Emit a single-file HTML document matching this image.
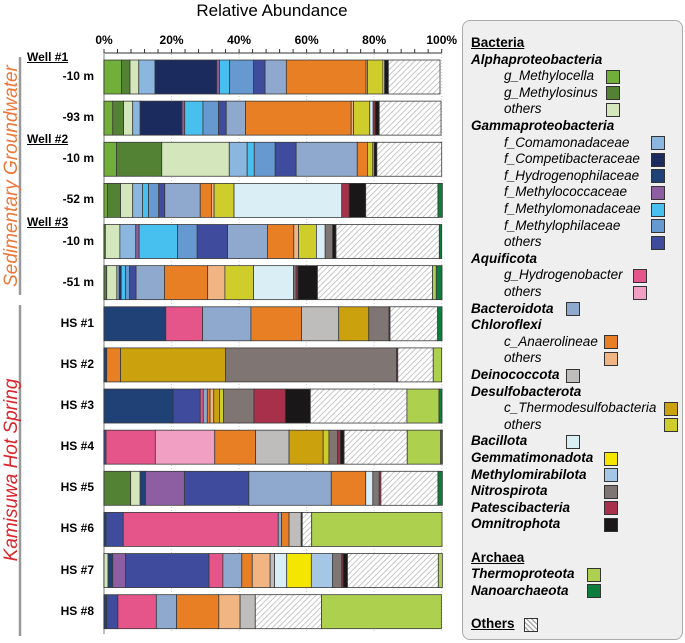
<!DOCTYPE html>
<html><head><meta charset="utf-8">
<style>
body{margin:0;background:#fff;font-family:"Liberation Sans",Arial,sans-serif;}
#wrap{position:relative;width:685px;height:643px;overflow:hidden;}
.lg{position:absolute;font-size:13.5px;white-space:nowrap;line-height:16px;}
.b{font-weight:bold;font-style:italic;}
.i{font-style:italic;}
.u{font-weight:bold;text-decoration:underline;}
.sw{position:absolute;width:12px;height:12px;border:1.5px solid #333;}
.lab{position:absolute;font-size:12px;font-weight:bold;white-space:nowrap;}
</style></head><body>
<div id="wrap">
<svg id="chart" width="685" height="643" style="position:absolute;left:0;top:0">
<defs>
<pattern id="hatch" patternUnits="userSpaceOnUse" width="4" height="4" patternTransform="rotate(45)">
<rect width="4" height="4" fill="#fff"/><line x1="0" y1="0" x2="0" y2="4" stroke="#b8b8b8" stroke-width="1.6"/>
</pattern>
</defs>
<text x="272" y="16" font-size="17" text-anchor="middle" font-family="Liberation Sans">Relative Abundance</text>
<g id="axis"></g>
<g id="bars"></g>
<line x1="20" y1="57" x2="20" y2="295" stroke="#999" stroke-width="2.5"/>
<line x1="20" y1="305" x2="20" y2="636" stroke="#999" stroke-width="2.5"/>
<text transform="translate(17,176) rotate(-90)" font-size="19" font-style="italic" fill="#e9783a" text-anchor="middle" font-family="Liberation Sans">Sedimentary Groundwater</text>
<text transform="translate(17,470) rotate(-90)" font-size="19" font-style="italic" fill="#d8262c" text-anchor="middle" font-family="Liberation Sans">Kamisuwa Hot Spring</text>
</svg>
<div id="labels"></div>
<div style="position:absolute;left:462px;top:20px;width:219px;height:618px;border:1.5px solid #aaa;border-radius:8px;background:#efefef;"></div>
<div id="legend"></div>
</div>
<script>
const sampleNames=["-10 m","-93 m","-10 m","-52 m","-10 m","-51 m","HS #1","HS #2","HS #3","HS #4","HS #5","HS #6","HS #7","HS #8"];
const wellLabels=[["Well #1",0],["Well #2",2],["Well #3",4]];
const tickLabels=["0%","20%","40%","60%","80%","100%"];
// series values per sample (percent)
const methylocella=[5.2,2.6,3.7,1.0,0,0,0,0,0,0,0,0,0,0];
const methylosinus=[2.5,3.2,13.4,3.9,0.4,0.8,0,0,0,0,7.9,0,0,0];
const alphaOthers=[2.6,2.7,20.0,3.6,4.3,3.0,0,0,0,0,2.8,0,1.2,0];
const comamonadaceae=[4.8,2.2,5.3,2.9,4.7,0.7,0,0,0,0,0,0,0,0];
const competibacteraceae=[18.3,12.4,0,0,0,0.6,0,0,0,0,0,0,0,0];
const hydrogenophilaceae=[0,0,0,0,0,0,18.3,0.8,20.5,0,1.6,0.6,1.4,0.8];
const methylococcaceae=[0.8,0.8,0,0,1.0,0,0,0,0,0,11.5,0,3.8,0];
const methylomonadaceae=[3.0,5.4,2.1,1.8,11.4,1.3,0,0,0,0,0,0,0,0];
const methylophilaceae=[7.1,4.6,6.2,3.0,5.8,1.2,0,0,0,0,0,0,0,0];
const gammaOthers=[3.4,2.3,6.2,1.8,9.0,1.9,0,0,8.0,0.6,19.1,5.1,24.7,3.3];
const hydrogenobacter=[0,0,0,0,0,0,10.9,0,0.9,14.6,0,45.9,4.1,11.4];
const aquificotaOthers=[0,0,0,0,0,0,0,0,0,17.6,0,0,0,0];
const bacteroidota=[6.3,5.7,18.1,10.5,11.8,8.4,14.3,0,1.2,0,24.4,1.0,5.6,6.0];
const anaerolineae=[23.6,31.3,3.0,3.3,7.8,12.8,15.0,4.1,0.8,12.1,10.2,2.2,3.1,12.5];
const chloroflexiOthers=[0.4,0.7,0,0.8,1.4,5.1,0,0,1.1,0,0,0,5.3,6.3];
const deinococcota=[0,0,0,0,0,0,11.0,0,0,9.9,0,3.6,1.3,4.5];
const thermodesulfobacteria=[0,0,0,0,0,0,8.9,31.1,1.7,10.1,0,0,0,0];
const desulfoOthers=[4.6,4.8,1.6,5.9,5.3,8.5,0,0,1.2,1.7,0,0,0,0];
const bacillota=[0.5,1.0,0.4,31.9,2.6,11.8,0,0,0,0,2.1,0,3.6,0];
const gemmatimonadota=[0,0,0,0,0,0,0,0,0,0,0,0,7.3,0];
const methylomirabilota=[0,0,0,0,0,0,0,0,0,0,0,0,6.3,0];
const nitrospirota=[0,0,0,0,2.2,0.8,6.0,50.6,9.0,2.6,1.9,0,2.7,0];
const patescibacteria=[0,0.6,0,2.2,0,0.5,0,0.4,9.3,0.8,0.5,0,0.4,0];
const omnitrophota=[1.1,1.2,0.8,4.9,1.0,5.8,0.3,0,7.4,1.1,0,0.3,1.3,0];
const othersHatch=[15.3,18.3,19.2,21.4,30.6,34.1,14.1,10.5,28.6,18.7,16.9,2.8,26.9,19.6];
const thermoproteota=[0,0,0,0,0,1.1,0,2.5,9.5,9.9,0,38.6,1.2,35.5];
const nanoarchaeota=[0,0,0,1.3,0.7,1.7,1.3,0,0.9,0.5,1.3,0,0,0];

const series=[
["methylocella",methylocella,"#72ae3a"],["methylosinus",methylosinus,"#548235"],["alpha-others",alphaOthers,"#d4e6bb"],
["comamonadaceae",comamonadaceae,"#8ab6e0"],["competibacteraceae",competibacteraceae,"#1c2b5e"],["hydrogenophilaceae",hydrogenophilaceae,"#1f4176"],
["methylococcaceae",methylococcaceae,"#8e5ea2"],["methylomonadaceae",methylomonadaceae,"#48c0ef"],["methylophilaceae",methylophilaceae,"#6699cf"],
["gamma-others",gammaOthers,"#3f4b9c"],["hydrogenobacter",hydrogenobacter,"#e6558a"],["aquificota-others",aquificotaOthers,"#f19fc2"],
["bacteroidota",bacteroidota,"#8fa9ce"],["anaerolineae",anaerolineae,"#e87f25"],["chloroflexi-others",chloroflexiOthers,"#f1b583"],
["deinococcota",deinococcota,"#bfbdbc"],["thermodesulfobacteria",thermodesulfobacteria,"#cca10e"],["desulfo-others",desulfoOthers,"#cfcd2c"],
["bacillota",bacillota,"#daeef5"],["gemmatimonadota",gemmatimonadota,"#f5e600"],["methylomirabilota",methylomirabilota,"#a6c6e6"],
["nitrospirota",nitrospirota,"#7f7573"],["patescibacteria",patescibacteria,"#a8304a"],["omnitrophota",omnitrophota,"#1a1718"],
["others",othersHatch,"url(#hatch)"],["thermoproteota",thermoproteota,"#add04f"],["nanoarchaeota",nanoarchaeota,"#0d7d3d"]];

const NS="http://www.w3.org/2000/svg";
const X0=104,X1=441.7,Y0=60,PITCH=41.13,BH=34;
function xs(v){return X0+(X1-X0)*v/100;}
function yb(i){return Y0+i*PITCH;}
const axis=document.getElementById('axis');
function mk(tag,attrs,parent){const e=document.createElementNS(NS,tag);for(const k in attrs)e.setAttribute(k,attrs[k]);parent.appendChild(e);return e;}
for(let p=20;p<=100;p+=20){const g=mk('line',{x1:xs(p),x2:xs(p),y1:54,y2:632,stroke:'#ccc','stroke-width':1,'stroke-dasharray':'1,2'},axis);

}
const al=mk('line',{x1:X0,x2:X1,y1:53,y2:53,stroke:'#333','stroke-width':1},axis);


const ll=mk('line',{x1:X0,x2:X0,y1:53,y2:634,stroke:'#aaa','stroke-width':1.5},axis);


for(let p=0;p<=100;p+=4){const t=mk('line',{x1:xs(p),x2:xs(p),y1:49,y2:53,stroke:'#333','stroke-width':1},axis);

}
tickLabels.forEach((s,i)=>{const t=mk('text',{x:xs(i*20),y:44,'font-size':12,'font-weight':'bold','text-anchor':'middle','font-family':'Liberation Sans'},axis);t.textContent=s;

});
const bars=document.getElementById('bars');
sampleNames.forEach((n,i)=>{let acc=0;const g=mk('g',{},bars);


series.forEach(s=>{const v=s[1][i];if(v>0){const r=mk('rect',{x:xs(acc),y:yb(i),width:xs(acc+v)-xs(acc),height:BH,fill:s[2],stroke:'#3a3a3a','stroke-width':0.8},g);

}acc+=v;});});
const labels=document.getElementById('labels');
sampleNames.forEach((n,i)=>{const d=document.createElement('div');d.className='lab';d.textContent=n;
d.style.right=(685-94)+'px';d.style.top=(yb(i)+BH/2-8)+'px';


labels.appendChild(d);});
wellLabels.forEach(w=>{const d=document.createElement('div');d.className='lab';d.style.textDecoration='underline';d.textContent=w[0];
d.style.left='27px';d.style.top=(yb(w[1])-10)+'px';


labels.appendChild(d);});
const legendRows=[
["Bacteria","u",null,null],["Alphaproteobacteria","b",null,null],
["g_Methylocella","i","#72ae3a",606],["g_Methylosinus","i","#548235",606],["others","i","#d4e6bb",606],
["Gammaproteobacteria","b",null,null],
["f_Comamonadaceae","i","#8ab6e0",651],["f_Competibacteraceae","i","#1c2b5e",651],["f_Hydrogenophilaceae","i","#1f4176",651],
["f_Methylococcaceae","i","#8e5ea2",651],["f_Methylomonadaceae","i","#48c0ef",651],["f_Methylophilaceae","i","#6699cf",651],["others","i","#3f4b9c",651],
["Aquificota","b",null,null],["g_Hydrogenobacter","i","#e6558a",633],["others","i","#f19fc2",633],
["Bacteroidota","b","#8fa9ce",566],["Chloroflexi","b",null,null],["c_Anaerolineae","i","#e87f25",604],["others","i","#f1b583",604],
["Deinococcota","b","#bfbdbc",566],["Desulfobacterota","b",null,null],["c_Thermodesulfobacteria","i","#cca10e",664],["others","i","#cfcd2c",664],
["Bacillota","b","#daeef5",566],["Gemmatimonadota","b","#f5e600",604],["Methylomirabilota","b","#a6c6e6",604],["Nitrospirota","b","#7f7573",604],
["Patescibacteria","b","#a8304a",604],["Omnitrophota","b","#1a1718",604],[null],
["Archaea","u",null,null],["Thermoproteota","b","#add04f",587],["Nanoarchaeota","b","#0d7d3d",587],[null],
["Others","u","hatch",524]];
const lg=document.getElementById('legend');
legendRows.forEach((r,k)=>{if(!r[0])return;const y=35+k*16.6;
const d=document.createElement('div');d.className='lg '+r[1];d.textContent=r[0];
d.style.left=(r[1]==='i'?504:471)+'px';d.style.top=y+'px';


lg.appendChild(d);
if(r[2]){const s=document.createElement('div');s.className='sw';s.style.left=r[3]+'px';s.style.top=(y+1.5)+'px';
if(r[2]==='hatch'){s.style.background='repeating-linear-gradient(45deg,#fff 0 2px,#aaa 2px 3.5px)';}else s.style.background=r[2];


lg.appendChild(s);}});
</script>
</body></html>
